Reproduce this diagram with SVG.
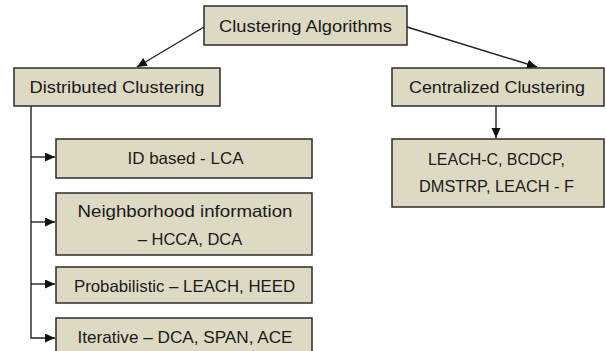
<svg xmlns="http://www.w3.org/2000/svg" width="606" height="351" viewBox="0 0 606 351">
<style>
.box{fill:#DDD9C3;stroke:#2b2b2b;stroke-width:1.5}
.t{font-family:"Liberation Sans",Arial,sans-serif;font-size:16.5px;fill:#1a1a1a;text-anchor:middle}
.c{fill:none;stroke:#222;stroke-width:1.4}
</style>
<defs>
<marker id="ah" markerUnits="userSpaceOnUse" markerWidth="11" markerHeight="10" refX="10" refY="4.5" orient="auto">
<path d="M0,0 L10,4.5 L0,9 z" fill="#111"/>
</marker>
</defs>
<rect width="606" height="351" fill="#fff"/>
<g id="connectors">
<line class="c" x1="204" y1="27" x2="137" y2="67" marker-end="url(#ah)"/>
<line class="c" x1="407" y1="27" x2="537" y2="67" marker-end="url(#ah)"/>
<polyline class="c" points="31,106 31,338 55,338" marker-end="url(#ah)"/>
<line class="c" x1="31" y1="157" x2="55" y2="157" marker-end="url(#ah)"/>
<line class="c" x1="31" y1="222" x2="55" y2="222" marker-end="url(#ah)"/>
<line class="c" x1="31" y1="284" x2="55" y2="284" marker-end="url(#ah)"/>
<line class="c" x1="496" y1="106" x2="496" y2="138" marker-end="url(#ah)"/>
</g>
<g id="clustering-algorithms">
<rect class="box" x="204" y="6" width="203" height="39"/>
<text class="t" x="305.5" y="32" textLength="173" lengthAdjust="spacingAndGlyphs">Clustering Algorithms</text>
</g>
<g id="distributed-clustering">
<rect class="box" x="14" y="68" width="206" height="38"/>
<text class="t" x="117" y="93" textLength="175" lengthAdjust="spacingAndGlyphs">Distributed Clustering</text>
</g>
<g id="centralized-clustering">
<rect class="box" x="392" y="68" width="212" height="38"/>
<text class="t" x="497" y="93" textLength="176" lengthAdjust="spacingAndGlyphs">Centralized Clustering</text>
</g>
<g id="id-based">
<rect class="box" x="56" y="139" width="256" height="39"/>
<text class="t" x="185.5" y="164" textLength="116" lengthAdjust="spacingAndGlyphs">ID based - LCA</text>
</g>
<g id="neighborhood">
<rect class="box" x="56" y="193" width="256" height="62"/>
<text class="t" x="185" y="217" textLength="215" lengthAdjust="spacingAndGlyphs">Neighborhood information</text>
<text class="t" x="190" y="245">– HCCA, DCA</text>
</g>
<g id="probabilistic">
<rect class="box" x="56" y="267" width="256" height="36"/>
<text class="t" x="184.5" y="292" textLength="221" lengthAdjust="spacingAndGlyphs">Probabilistic – LEACH, HEED</text>
</g>
<g id="iterative">
<rect class="box" x="56" y="318" width="256" height="45"/>
<text class="t" x="185" y="343" textLength="215" lengthAdjust="spacingAndGlyphs">Iterative – DCA, SPAN, ACE</text>
</g>
<g id="centralized-list">
<rect class="box" x="392" y="139" width="212" height="68"/>
<text class="t" x="496.5" y="165" textLength="137" lengthAdjust="spacingAndGlyphs">LEACH-C, BCDCP,</text>
<text class="t" x="496.5" y="192" textLength="155" lengthAdjust="spacingAndGlyphs">DMSTRP, LEACH - F</text>
</g>
</svg>
